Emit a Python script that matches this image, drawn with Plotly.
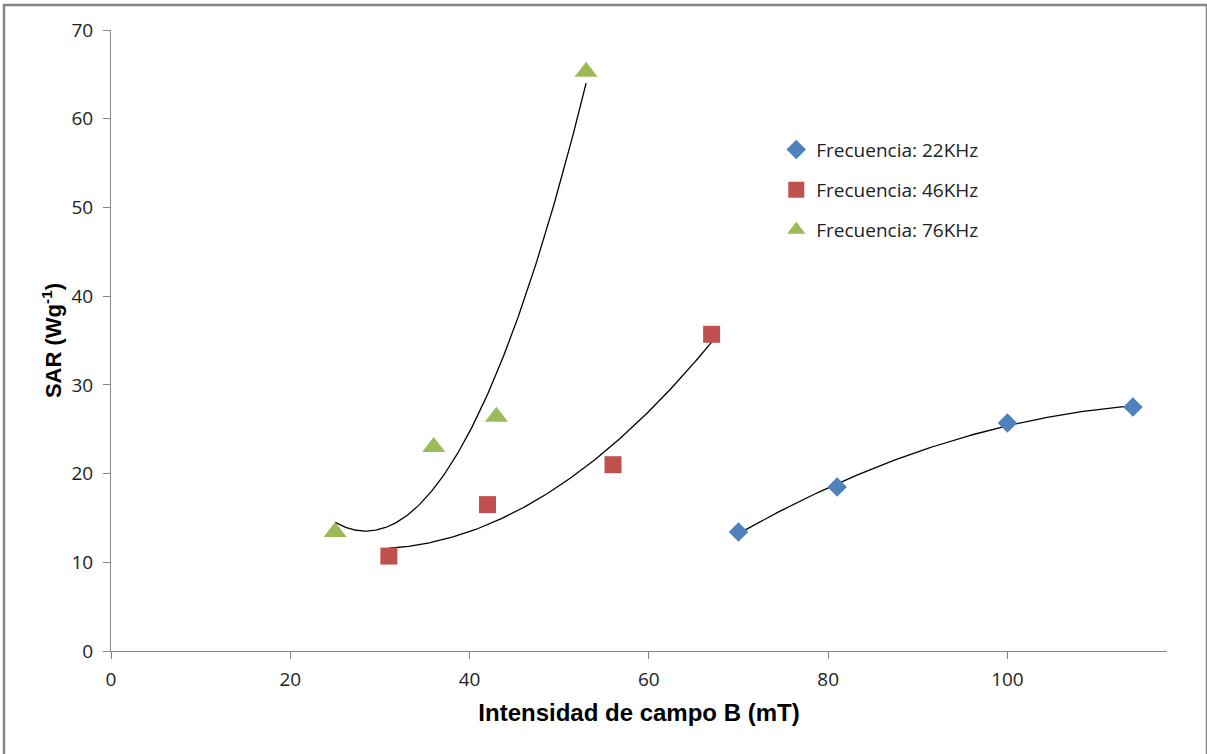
import numpy as np
import plotly.graph_objects as go

# Field strength B (mT) and specific absorption rate (W/g) at three frequencies
b_22 = [70, 81, 100, 114]
sar_22 = [13.4, 18.5, 25.7, 27.5]

b_46 = [31, 42, 56, 67]
sar_46 = [10.7, 16.5, 21.0, 35.7]

b_76 = [25, 36, 43, 53]
sar_76 = [13.4, 23.0, 26.4, 65.3]

series = [
    ("Frecuencia: 22KHz", b_22, sar_22, "diamond", 15, "#4F81BD"),
    ("Frecuencia: 46KHz", b_46, sar_46, "square", 17, "#C0504D"),
    ("Frecuencia: 76KHz", b_76, sar_76, "triangle-up", 20, "#9BBB59"),
]

x_ticks = [0, 20, 40, 60, 80, 100]
y_ticks = [0, 10, 20, 30, 40, 50, 60, 70]

tick_font = dict(family="Open Sans, Lato, sans-serif", size=19, color="#222222")
xtitle_font = dict(family="Liberation Sans, Arial, sans-serif", size=24, color="#000000")
ytitle_font = dict(family="Liberation Sans, Arial, sans-serif", size=22, color="#000000")

fig = go.Figure()

# Second-order polynomial trendline for each series, spanning its data range
for name, xs, ys, sym, size, col in series:
    coef = np.polyfit(xs, ys, 2)
    xf = np.linspace(min(xs), max(xs), 200)
    fig.add_trace(go.Scatter(
        x=xf, y=np.polyval(coef, xf), mode="lines",
        line=dict(color="#000000", width=1.3),
        showlegend=False, hoverinfo="skip",
    ))

for name, xs, ys, sym, size, col in series:
    fig.add_trace(go.Scatter(
        x=xs, y=ys, mode="markers", name=name, legendgroup=name,
        marker=dict(symbol=sym, size=size, color=col, line=dict(width=0)),
    ))

axis_common = dict(
    showgrid=False, zeroline=False, showline=True, linecolor="#868686",
    linewidth=1, ticks="outside", tickcolor="#868686", ticklen=7,
    tickfont=tick_font,
)

fig.update_layout(
    width=1207, height=754,
    margin=dict(l=111, r=40, t=30, b=103),
    paper_bgcolor="white", plot_bgcolor="white",
    xaxis=dict(
        range=[0, 117.8], tickvals=x_ticks, ticklabelstandoff=4,
        title=dict(text="<b>Intensidad de campo B (mT)</b>", font=xtitle_font, standoff=13),
        **axis_common,
    ),
    yaxis=dict(
        range=[0, 70], tickvals=y_ticks, ticklabelstandoff=6,
        title=dict(text="<b>SAR (Wg<sup>-1</sup>)</b>", font=ytitle_font, standoff=3),
        **axis_common,
    ),
    legend=dict(
        x=0.63, y=0.838, xanchor="left", yanchor="top",
        font=dict(family="Open Sans, Lato, sans-serif", size=19, color="#222222"),
        tracegroupgap=12.5, bgcolor="rgba(0,0,0,0)", itemwidth=30,
    ),
    shapes=[dict(
        type="rect", xref="paper", yref="paper",
        x0=(4 - 111) / 1056, x1=(1207 - 111) / 1056,
        y0=(651 - 770) / 621, y1=(651 - 5) / 621,
        line=dict(color="#868686", width=2.5), fillcolor="rgba(0,0,0,0)",
        layer="below",
    )],
)

fig.write_html("out.html")
